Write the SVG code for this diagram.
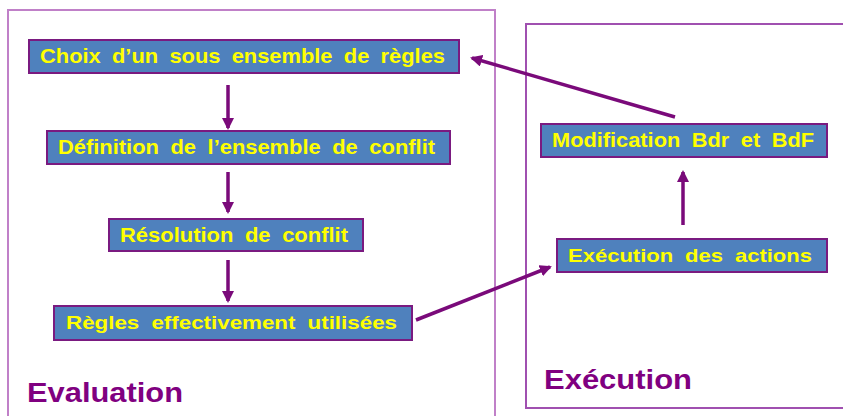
<svg xmlns="http://www.w3.org/2000/svg" width="843" height="416" viewBox="0 0 843 416">
  <defs>
    <marker id="head" markerWidth="12" markerHeight="12" refX="10" refY="6" orient="auto" markerUnits="userSpaceOnUse">
      <path d="M0,0 L12,6 L0,12 Z" fill="#7a0a7a"/>
    </marker>
    <style>
      .box { fill: #4f81bd; stroke: #7a1a80; stroke-width: 2; }
      .lbl { font-family: "Liberation Sans", Arial, sans-serif; font-weight: bold; fill: #ffff00; word-spacing: 5px; }
      .title { font-family: "Liberation Sans", Arial, sans-serif; font-weight: bold; fill: #800080; font-size: 27px; }
      .conn { stroke: #7a0a7a; stroke-width: 3.5; fill: none; marker-end: url(#head); }
    </style>
  </defs>
  <rect width="843" height="416" fill="#ffffff"/>

  <!-- Frames -->
  <g id="frame-evaluation">
    <path d="M8,420 V10 H495 V420" fill="none" stroke="#c080c8" stroke-width="2"/>
    <text class="title" x="27" y="402" textLength="156" lengthAdjust="spacingAndGlyphs">Evaluation</text>
  </g>
  <g id="frame-execution">
    <path d="M845,24 H526 V408 H845" fill="none" stroke="#a050b0" stroke-width="2"/>
    <text class="title" x="544" y="389" textLength="148" lengthAdjust="spacingAndGlyphs">Exécution</text>
  </g>

  <!-- Connectors -->
  <g id="connectors">
    <line class="conn" x1="228" y1="85" x2="228" y2="128"/>
    <line class="conn" x1="228" y1="172" x2="228" y2="212"/>
    <line class="conn" x1="228" y1="260" x2="228" y2="301"/>
    <line class="conn" x1="416" y1="320" x2="550" y2="267"/>
    <line class="conn" x1="683" y1="225" x2="683" y2="172"/>
    <line class="conn" x1="675" y1="117" x2="472" y2="58"/>
  </g>

  <!-- Nodes -->
  <g id="choix">
    <rect class="box" x="29" y="40" width="430" height="33"/>
    <text class="lbl" x="40" y="63" font-size="21" textLength="405" lengthAdjust="spacingAndGlyphs">Choix d’un sous ensemble de règles</text>
  </g>
  <g id="definition">
    <rect class="box" x="47" y="131" width="403" height="33"/>
    <text class="lbl" x="58" y="154" font-size="20" textLength="377" lengthAdjust="spacingAndGlyphs">Définition de l’ensemble de conflit</text>
  </g>
  <g id="resolution">
    <rect class="box" x="109" y="219" width="254" height="32"/>
    <text class="lbl" x="120" y="242" font-size="20" textLength="228" lengthAdjust="spacingAndGlyphs">Résolution de conflit</text>
  </g>
  <g id="regles">
    <rect class="box" x="54" y="306" width="358" height="34"/>
    <text class="lbl" x="66" y="329" font-size="19" textLength="331" lengthAdjust="spacingAndGlyphs">Règles effectivement utilisées</text>
  </g>
  <g id="modification">
    <rect class="box" x="541" y="124" width="286" height="33"/>
    <text class="lbl" x="552" y="147" font-size="20" textLength="262" lengthAdjust="spacingAndGlyphs">Modification Bdr et BdF</text>
  </g>
  <g id="execution-actions">
    <rect class="box" x="557" y="239" width="270" height="33"/>
    <text class="lbl" x="568" y="262" font-size="19" textLength="244" lengthAdjust="spacingAndGlyphs">Exécution des actions</text>
  </g>
</svg>
